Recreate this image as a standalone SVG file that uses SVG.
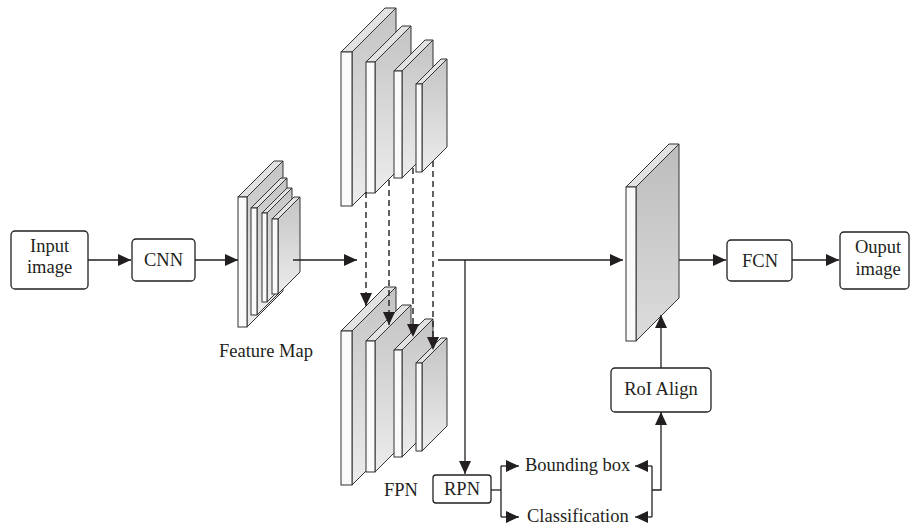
<svg xmlns="http://www.w3.org/2000/svg" width="912" height="529" viewBox="0 0 912 529">
<defs>
<linearGradient id="side" x1="0" y1="0" x2="0" y2="1">
<stop offset="0" stop-color="#c4c4c4"/>
<stop offset="1" stop-color="#ececec"/>
</linearGradient>
<linearGradient id="sideDark" x1="0" y1="0" x2="0" y2="1">
<stop offset="0" stop-color="#bdbdbd"/>
<stop offset="1" stop-color="#dcdcdc"/>
</linearGradient>
<marker id="ah" markerUnits="userSpaceOnUse" markerWidth="14" markerHeight="12" refX="13" refY="6" orient="auto">
<path d="M0,0 L13,6 L0,12 Z" fill="#231f20"/>
</marker>
</defs>
<style>
.box{fill:#fff;stroke:#231f20;stroke-width:1.3}
.t{font-family:"Liberation Serif","Times New Roman",serif;font-size:18.5px;fill:#231f20}
.m{text-anchor:middle}
.ln{fill:none;stroke:#231f20;stroke-width:1.3}
.dash{fill:none;stroke:#231f20;stroke-width:1.4;stroke-dasharray:6 4}
.fr{fill:#fafafa;stroke:#333;stroke-width:1}
.tp{fill:#e2e2e2;stroke:#333;stroke-width:1}
.sd{fill:url(#side);stroke:#333;stroke-width:1}
.sdk{fill:url(#sideDark);stroke:#333;stroke-width:1}
</style>
<rect width="912" height="529" fill="#fff"/>

<g id="input-image">
<rect class="box" x="11" y="231" width="77" height="58" rx="4"/>
<text class="t m" x="49.5" y="252">Input</text>
<text class="t m" x="49.5" y="273">image</text>
</g>

<g id="cnn">
<rect class="box" x="132" y="239" width="63" height="42" rx="4"/>
<text class="t m" x="163.5" y="266">CNN</text>
</g>

<g id="feature-map">
<polygon class="tp" points="238,197 274,161 283,161 247,197"/>
<polygon class="sd" points="247,197 283,161 283,291 247,327"/>
<rect class="fr" x="238" y="197" width="9" height="130"/>
<polygon class="tp" points="251,208 281,178 287,178 257,208"/>
<polygon class="sd" points="257,208 287,178 287,285 257,315"/>
<rect class="fr" x="251" y="208" width="6" height="107"/>
<polygon class="tp" points="262,213 287,188 292,188 267,213"/>
<polygon class="sd" points="267,213 292,188 292,277 267,302"/>
<rect class="fr" x="262" y="213" width="5" height="89"/>
<polygon class="tp" points="272,219 294,197 300,197 278,219"/>
<polygon class="sd" points="278,219 300,197 300,272 278,294"/>
<rect class="fr" x="272" y="219" width="6" height="75"/>
<text class="t m" x="266" y="357">Feature Map</text>
</g>

<g id="fpn-top">
<polygon class="tp" points="341,52 385,8 396,8 352,52"/>
<polygon class="sd" points="352,52 396,8 396,162 352,206"/>
<rect class="fr" x="341" y="52" width="11" height="154"/>
<polygon class="tp" points="366,62 402,26 411,26 375,62"/>
<polygon class="sd" points="375,62 411,26 411,157 375,193"/>
<rect class="fr" x="366" y="62" width="9" height="131"/>
<polygon class="tp" points="394,71 425,40 433,40 402,71"/>
<polygon class="sd" points="402,71 433,40 433,147 402,178"/>
<rect class="fr" x="394" y="71" width="8" height="107"/>
<polygon class="tp" points="416,84 441,59 447,59 422,84"/>
<polygon class="sd" points="422,84 447,59 447,147 422,172"/>
<rect class="fr" x="416" y="84" width="6" height="88"/>
</g>

<g id="fpn-bottom">
<polygon class="tp" points="341,331 385,287 396,287 352,331"/>
<polygon class="sd" points="352,331 396,287 396,441 352,485"/>
<rect class="fr" x="341" y="331" width="11" height="154"/>
<polygon class="tp" points="366,341 402,305 411,305 375,341"/>
<polygon class="sd" points="375,341 411,305 411,436 375,472"/>
<rect class="fr" x="366" y="341" width="9" height="131"/>
<polygon class="tp" points="394,350 425,319 433,319 402,350"/>
<polygon class="sd" points="402,350 433,319 433,426 402,457"/>
<rect class="fr" x="394" y="350" width="8" height="107"/>
<polygon class="tp" points="416,363 441,338 447,338 422,363"/>
<polygon class="sd" points="422,363 447,338 447,426 422,451"/>
<rect class="fr" x="416" y="363" width="6" height="88"/>
<text class="t m" x="401" y="496">FPN</text>
</g>

<g id="roi-feature">
<polygon class="tp" points="626,187 669,144 679,144 636,187"/>
<polygon class="sdk" points="636,187 679,144 679,298 636,341"/>
<rect class="fr" x="626" y="187" width="10" height="154"/>
</g>

<g id="rpn">
<rect class="box" x="433" y="475" width="58" height="28" rx="3"/>
<text class="t m" x="462" y="495">RPN</text>
</g>

<g id="bounding-box">
<text class="t" x="525" y="471">Bounding box</text>
</g>

<g id="classification">
<text class="t" x="527" y="522">Classification</text>
</g>

<g id="roi-align">
<rect class="box" x="611" y="368" width="100" height="44" rx="4"/>
<text class="t m" x="661" y="395">RoI Align</text>
</g>

<g id="fcn">
<rect class="box" x="727" y="240" width="65" height="41" rx="4"/>
<text class="t m" x="760" y="267">FCN</text>
</g>

<g id="output-image">
<rect class="box" x="840" y="232" width="69" height="57" rx="4"/>
<text class="t m" x="878" y="253">Ouput</text>
<text class="t m" x="878" y="275">image</text>
</g>

<g id="connectors">
<line class="ln" x1="88" y1="260" x2="131" y2="260" marker-end="url(#ah)"/>
<line class="ln" x1="195" y1="260" x2="238" y2="260" marker-end="url(#ah)"/>
<line class="ln" x1="293" y1="260" x2="357" y2="260" marker-end="url(#ah)"/>
<line class="dash" x1="366" y1="192" x2="366" y2="306" marker-end="url(#ah)"/>
<line class="dash" x1="389" y1="180" x2="389" y2="325" marker-end="url(#ah)"/>
<line class="dash" x1="413" y1="168" x2="413" y2="337" marker-end="url(#ah)"/>
<line class="dash" x1="433" y1="161" x2="433" y2="350" marker-end="url(#ah)"/>
<line class="ln" x1="438" y1="260" x2="623" y2="260" marker-end="url(#ah)"/>
<line class="ln" x1="465" y1="260" x2="465" y2="474" marker-end="url(#ah)"/>
<line class="ln" x1="679" y1="260" x2="726" y2="260" marker-end="url(#ah)"/>
<line class="ln" x1="792" y1="260" x2="839" y2="260" marker-end="url(#ah)"/>
<polyline class="ln" points="491,490 501,490"/>
<line class="ln" x1="501" y1="466" x2="501" y2="517"/>
<line class="ln" x1="501" y1="466" x2="519" y2="466" marker-end="url(#ah)"/>
<line class="ln" x1="501" y1="517" x2="519" y2="517" marker-end="url(#ah)"/>
<line class="ln" x1="652" y1="466" x2="652" y2="517"/>
<line class="ln" x1="652" y1="466" x2="635" y2="466" marker-end="url(#ah)"/>
<line class="ln" x1="652" y1="517" x2="635" y2="517" marker-end="url(#ah)"/>
<polyline class="ln" points="652,490 661,490 661,412" marker-end="url(#ah)"/>
<line class="ln" x1="661" y1="368" x2="661" y2="315" marker-end="url(#ah)"/>
</g>
</svg>
